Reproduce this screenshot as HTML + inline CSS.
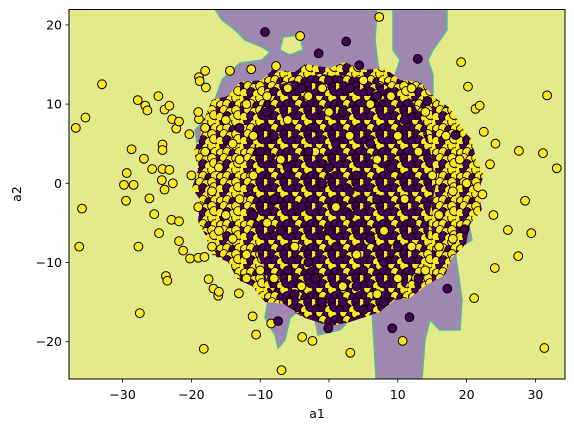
<!DOCTYPE html>
<html><head><meta charset="utf-8"><style>
body{margin:0;background:#fff;width:574px;height:432px;overflow:hidden}
svg{font-family:"DejaVu Sans","Liberation Sans",sans-serif}
</style></head><body>
<svg id="chart" width="574" height="432">
<defs>
<clipPath id="clip"><rect x="69" y="9.5" width="496" height="369.5"/></clipPath>
<pattern id="patY" width="24" height="24" patternUnits="userSpaceOnUse">
<rect width="24" height="24" fill="#8a7a40"/>
<g stroke="#000" stroke-width="0.9">
<circle cx="2" cy="3" r="4.4" fill="#fde725"/><circle cx="8" cy="1" r="4.4" fill="#440154"/>
<circle cx="14" cy="4" r="4.4" fill="#fde725"/><circle cx="20" cy="2" r="4.4" fill="#fde725"/>
<circle cx="5" cy="9" r="4.4" fill="#fde725"/><circle cx="11" cy="8" r="4.4" fill="#fde725"/>
<circle cx="17" cy="10" r="4.4" fill="#440154"/><circle cx="23" cy="8" r="4.4" fill="#fde725"/>
<circle cx="1" cy="15" r="4.4" fill="#440154"/><circle cx="8" cy="14" r="4.4" fill="#fde725"/>
<circle cx="14" cy="16" r="4.4" fill="#fde725"/><circle cx="20" cy="14" r="4.4" fill="#fde725"/>
<circle cx="4" cy="21" r="4.4" fill="#fde725"/><circle cx="11" cy="20" r="4.4" fill="#440154"/>
<circle cx="17" cy="22" r="4.4" fill="#fde725"/><circle cx="22" cy="19" r="4.4" fill="#fde725"/>
</g>
</pattern>
<pattern id="patP" width="24" height="24" patternUnits="userSpaceOnUse">
<rect width="24" height="24" fill="#5a4040"/>
<g stroke="#000" stroke-width="0.9">
<circle cx="2" cy="3" r="4.4" fill="#440154"/><circle cx="8" cy="1" r="4.4" fill="#fde725"/>
<circle cx="14" cy="4" r="4.4" fill="#440154"/><circle cx="20" cy="2" r="4.4" fill="#fde725"/>
<circle cx="5" cy="9" r="4.4" fill="#440154"/><circle cx="11" cy="8" r="4.4" fill="#fde725"/>
<circle cx="17" cy="10" r="4.4" fill="#440154"/><circle cx="23" cy="8" r="4.4" fill="#440154"/>
<circle cx="1" cy="15" r="4.4" fill="#fde725"/><circle cx="8" cy="14" r="4.4" fill="#440154"/>
<circle cx="14" cy="16" r="4.4" fill="#fde725"/><circle cx="20" cy="14" r="4.4" fill="#440154"/>
<circle cx="4" cy="21" r="4.4" fill="#440154"/><circle cx="11" cy="20" r="4.4" fill="#440154"/>
<circle cx="17" cy="22" r="4.4" fill="#fde725"/><circle cx="22" cy="19" r="4.4" fill="#440154"/>
</g>
</pattern>
</defs>
<g clip-path="url(#clip)">
<rect x="69" y="9.5" width="496" height="369.5" fill="#e3ea8a"/>
<g fill="#9e88b0" stroke="#5fb59a" stroke-width="1.5">
<polygon points="215,9.5 447,9.5 447,30 440,40 433,50 428,60 433,75 433,100 460,130 460,140 445,150 470,230 472,240 455,250 462,300 460,330 440,330 430,320 425,340 422,379 376,379 372,310 365,300 350,320 340,330 318,335 315,320 300,310 290,318 285,340 278,348 275,335 265,318 268,300 263,280 240,250 215,160 198,150 195,130 205,120 215,100 222,80 232,70 240,63 262,60 270,52 262,47 245,40 235,30 222,20"/>
</g>
<g fill="#e3ea8a" stroke="#5fb59a" stroke-width="1.5">
<polygon points="377,9.5 393,9.5 393,50 400,60 395,75 383,80 378,65 375,40"/>
<polygon points="283,37 300,35 303,50 290,55 280,50"/>
</g>
<polygon fill="url(#patY)" points="203,122 212,100 228,96 240,82 262,80 272,70 295,72 305,64 330,68 345,62 362,70 385,68 400,80 420,82 435,98 450,108 462,128 472,140 476,160 484,175 478,192 482,210 470,224 466,244 452,258 445,275 428,284 410,298 395,300 380,312 360,310 340,320 320,312 300,316 284,304 265,302 252,286 238,280 228,262 212,255 206,236 198,222 200,200 192,188 198,170 194,150 200,138"/>
<polygon fill="url(#patP)" points="270,88 300,78 320,74 345,76 370,78 395,90 412,100 426,128 432,160 436,185 430,212 428,240 418,268 402,292 380,312 350,322 330,326 305,318 285,305 270,288 258,255 252,220 250,190 254,150 258,115"/>
<g id="pts"></g>
</g>
<rect x="69" y="9.5" width="496" height="369.5" fill="none" stroke="#000" stroke-width="1"/>
<g id="axes"></g>
<text x="317" y="418" text-anchor="middle" font-size="12.5">a1</text>
<text x="21" y="194" text-anchor="middle" font-size="12.5" transform="rotate(-90 21 194)">a2</text>
</svg>
<script>
const xTicks=[-30,-20,-10,0,10,20,30];
const yTicks=[-20,-10,0,10,20];
const yellowX=[-36.8,-35.4,-33.0,-35.9,-36.3,-27.8,-26.7,-26.4,-24.8,-28.7,-26.9,-29.4,-29.8,-28.4,-29.5,-26.1,-25.7,-25.4,-24.7,-27.7,-27.5,-24.2,-24.2,-24.3,-23.9,-24.2,-23.2,-22.7,-23.9,-23.2,-22.8,-22.2,-21.8,-20.3,-22.9,-21.8,-21.8,-21.2,-23.7,-23.5,-20.2,-19.0,-18.1,-17.5,-16.8,-16.1,-16.0,-18.2,-13.1,-11.1,-10.6,-6.9,-8.4,-18.0,-18.9,-18.8,-17.9,-14.4,-11.3,-7.7,-18.9,7.3,-4.2,19.2,20.2,24.2,24.1,21.1,23.4,23.9,-3.9,-2.4,3.1,10.7,22.3,21.3,21.9,22.5,31.7,31.1,33.1,27.6,28.5,31.3,29.4,27.5,26.0,
-15,-14,-16,-17,-15,-14,-12,-16,-13,-11,-12,-9,-10,-8,-18,-19,-17,-13,-11,-9,-7,-6,-5,-3,-2,0,1,3,4,6,7,8,9,10,11,12,13,14,15,16,17,18,19,16,14,12,10,7,2,-4,-6,-1,5,-12,-18,20,18,-20,-19];
const yellowY=[7.0,8.3,12.5,-3.2,-8.0,10.5,9.8,9.2,11.0,4.3,3.1,1.3,-0.2,-0.2,-2.2,-1.9,1.8,-3.9,-6.3,-8.0,-16.4,4.9,4.2,0.4,-0.8,1.8,1.7,0.0,9.3,9.8,8.1,6.9,7.8,6.2,-4.6,-4.8,-7.3,-8.5,-11.7,-12.3,-9.5,-9.4,-9.3,-12.1,-13.3,-14.2,-13.7,-20.9,-13.9,-16.8,-19.1,-23.6,-17.7,14.2,13.4,12.9,12.1,14.2,14.4,14.8,8.1,21.0,18.6,15.3,12.2,5.0,-10.7,-14.5,2.4,-4.0,-19.4,-19.9,-21.4,-19.9,-1.4,9.4,9.8,6.5,11.1,3.8,1.9,4.1,-2.2,-20.8,-6.3,-9.2,-5.9,
8,5,2,-1,-4,-7,-9,-6,3,6,10,11,-11,-12,4,-3,-8,-2,1,-5,3,8,-8,11,4,9,-3,6,-9,10,3,-6,11,6,-2,-8,4,9,1,-4,6,-1,3,-8,-11,12,-12,-14,-13,-13,12,12,13,-12,7,0,-7,1,9];
const purpleX=[-9.3,2.5,-1.5,4.4,12.9,18.4,19.7,-7.4,-0.1,9.2,11.7,17.2,14.3,
-8,-6,-4,-2,0,1,2,3,4,5,6,7,8,9,-3,-5,-1,2,5,8,-7,-10,-9,-4,0,3,6,11,12,-1,1,-3,4,10,-6,-11,-13,13,-2,0,7,-8,3];
const purpleY=[19.1,17.9,16.4,14.9,15.7,6.1,-5.8,-17.4,-18.3,-18.3,-16.9,-13.3,10.4,
6,2,-3,7,2,-8,9,-4,1,-11,5,-2,-10,2,-10,-14,-15,-15,-16,-15,-6,4,9,12,-6,12,-7,8,-5,0,5,4,-13,-8,-11,-4,7,-12,-12,13,11,-2,-1];
const sx=v=>329+6.88*v, sy=v=>183.3-7.92*v;
const NS='http://www.w3.org/2000/svg';
const pts=document.getElementById('pts');
function dot(x,y,fill,name){
  const c=document.createElementNS(NS,'circle');
  c.setAttribute('cx',sx(x));c.setAttribute('cy',sy(y));c.setAttribute('r',4.4);
  c.setAttribute('fill',fill);c.setAttribute('stroke','#000');c.setAttribute('stroke-width',1);
  
  
  pts.appendChild(c);
}
yellowX.forEach((x,i)=>dot(x,yellowY[i],'#fde725','point-class-1'));
purpleX.forEach((x,i)=>dot(x,purpleY[i],'#440154','point-class-0'));
const ax=document.getElementById('axes');
function el(tag,attrs){const e=document.createElementNS(NS,tag);for(const k in attrs)e.setAttribute(k,attrs[k]);ax.appendChild(e);return e;}
xTicks.forEach(t=>{
  const l=el('line',{x1:sx(t),x2:sx(t),y1:379,y2:382.5,stroke:'#000','stroke-width':0.8});
  
  
  const tx=el('text',{x:sx(t),y:399,'text-anchor':'middle','font-size':12.5});
  tx.textContent=t<0?'\u2212'+Math.abs(t):String(t);
  
  
});
yTicks.forEach(t=>{
  const l=el('line',{x1:65.5,x2:69,y1:sy(t),y2:sy(t),stroke:'#000','stroke-width':0.8});
  
  
  const tx=el('text',{x:62,y:sy(t)+4.5,'text-anchor':'end','font-size':12.5});
  tx.textContent=t<0?'\u2212'+Math.abs(t):String(t);
  
  
});
</script>
</body></html>
